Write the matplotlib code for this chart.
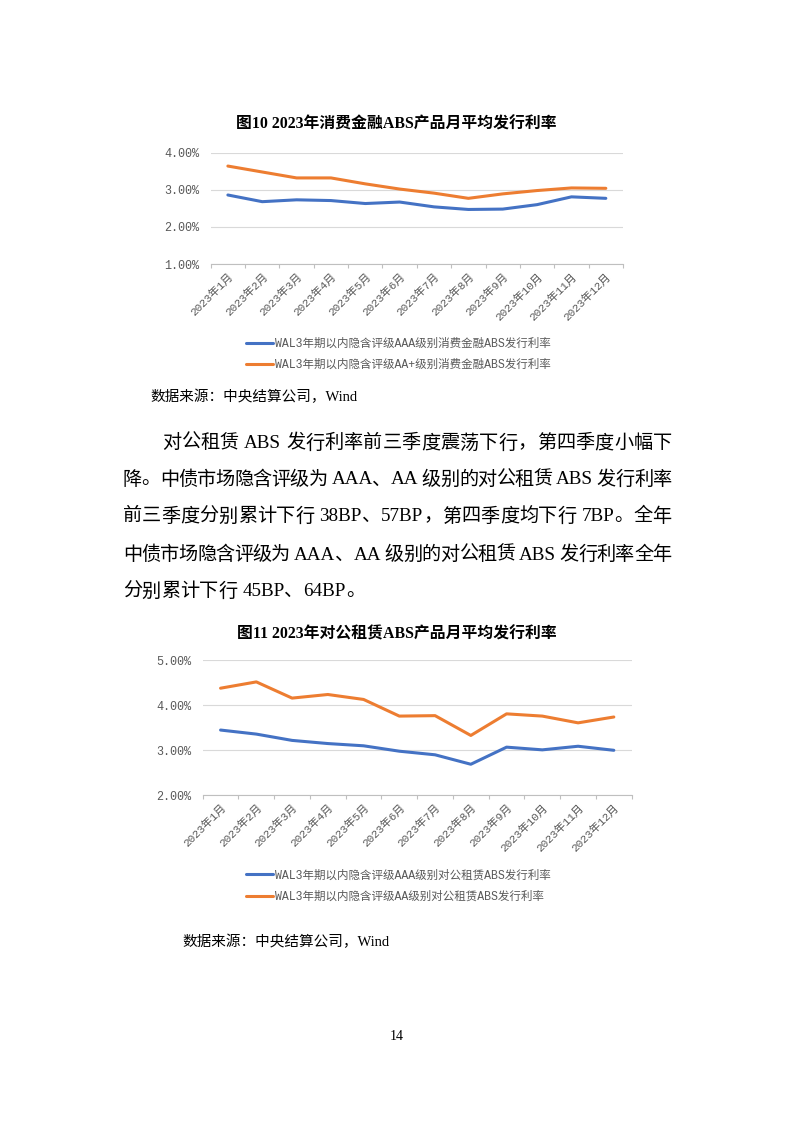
import re
import matplotlib
matplotlib.use("Agg")
from matplotlib import pyplot as plt
from matplotlib.ticker import FuncFormatter, MultipleLocator, FixedLocator
import numpy as np

W, H = 793, 1122

months = ["2023年1月", "2023年2月", "2023年3月", "2023年4月", "2023年5月", "2023年6月",
          "2023年7月", "2023年8月", "2023年9月", "2023年10月", "2023年11月", "2023年12月"]

# 图10 消费金融ABS (%)
cf_aaa = [2.86, 2.68, 2.73, 2.71, 2.63, 2.67, 2.54, 2.47, 2.48, 2.60, 2.81, 2.77]
cf_aap = [3.64, 3.48, 3.32, 3.32, 3.16, 3.02, 2.91, 2.77, 2.89, 2.98, 3.05, 3.04]
cf_labels = ["WAL3年期以内隐含评级AAA级别消费金融ABS发行利率",
             "WAL3年期以内隐含评级AA+级别消费金融ABS发行利率"]

# 图11 对公租赁ABS (%)
lease_aaa = [3.45, 3.36, 3.22, 3.15, 3.10, 2.98, 2.90, 2.69, 3.07, 3.01, 3.09, 3.00]
lease_aa = [4.38, 4.52, 4.16, 4.24, 4.13, 3.76, 3.77, 3.33, 3.81, 3.76, 3.61, 3.74]
lease_labels = ["WAL3年期以内隐含评级AAA级别对公租赁ABS发行利率",
                "WAL3年期以内隐含评级AA级别对公租赁ABS发行利率"]

source_text = "数据来源：中央结算公司，Wind"
paragraph = [
    "对公租赁 ABS 发行利率前三季度震荡下行，第四季度小幅下",
    "降。中债市场隐含评级为 AAA、AA 级别的对公租赁 ABS 发行利率",
    "前三季度分别累计下行 38BP、57BP，第四季度均下行 7BP。全年",
    "中债市场隐含评级为 AAA、AA 级别的对公租赁 ABS 发行利率全年",
    "分别累计下行 45BP、64BP。",
]

BLUE = "#4472C4"
ORANGE = "#ED7D31"
GREY = "#595959"
SERIF = ["Liberation Serif", "Noto Sans CJK SC", "DejaVu Sans"]
MONO = ["Liberation Mono", "Noto Sans CJK SC", "DejaVu Sans"]

fig = plt.figure(figsize=(W / 100, H / 100), dpi=100)
fig.patch.set_facecolor("white")


def fx(x):
    return x / W


def fy(y):
    return 1 - y / H


def px_axes(x0, ytop, x1, ybot):
    return fig.add_axes([fx(x0), fy(ybot), (x1 - x0) / W, (ybot - ytop) / H])


def draw_chart(ax, s1, s2, labels, ylo, yhi, leg_x, leg_y):
    x = np.arange(len(months))
    ax.plot(x, s1, color=BLUE, lw=2.2, solid_capstyle="round", solid_joinstyle="round", label=labels[0])
    ax.plot(x, s2, color=ORANGE, lw=2.2, solid_capstyle="round", solid_joinstyle="round", label=labels[1])
    ax.set_xlim(-0.5, len(months) - 0.5)
    ax.set_ylim(ylo, yhi)
    ax.yaxis.set_major_locator(MultipleLocator(1))
    ax.yaxis.set_major_formatter(FuncFormatter(lambda v, p: "{:.2f}%".format(v)))
    ax.grid(axis="y", color="#d9d9d9", lw=0.8)
    ax.set_axisbelow(True)
    for s in ["top", "right", "left"]:
        ax.spines[s].set_visible(False)
    ax.spines["bottom"].set_color("#bfbfbf")
    ax.spines["bottom"].set_linewidth(0.8)
    ax.set_xticks(x)
    ax.set_xticklabels(months, rotation=45, ha="right", rotation_mode="anchor",
                       fontsize=8, color=GREY, family=MONO)
    ax.xaxis.set_minor_locator(FixedLocator(np.arange(-0.5, len(months), 1.0)))
    ax.tick_params(axis="x", which="major", length=0, pad=5)
    ax.tick_params(axis="x", which="minor", length=3, color="#bfbfbf", width=0.8)
    ax.tick_params(axis="y", length=0, pad=8, labelsize=8.5, labelcolor=GREY)
    for t in ax.get_yticklabels():
        t.set_family(MONO)
    ax.legend(loc="upper left", bbox_to_anchor=(fx(leg_x), fy(leg_y)), bbox_transform=fig.transFigure,
              frameon=False, borderpad=0, borderaxespad=0, handlelength=2.35, handletextpad=0.2,
              labelspacing=0.8, prop={"family": MONO, "size": 8.3}, labelcolor=GREY)


# chart 1
fig.text(fx(396.7), fy(125), "图10 2023年消费金融ABS产品月平均发行利率", ha="center", va="center",
         fontsize=11.4, fontweight="bold", family=SERIF)
ax1 = px_axes(210.7, 152.7, 623, 264)
draw_chart(ax1, cf_aaa, cf_aap, cf_labels, 1, 4, 246, 338)
fig.text(fx(150), fy(397), source_text, ha="left", va="center", fontsize=10.5, family=SERIF)

# paragraph, justified like the original
renderer = fig.canvas.get_renderer()


def justify(line, x0, x1, y, size, stretch=True):
    tokens = re.findall(r"[A-Za-z0-9%.]+| |.", line)
    space_w = 0.25 * size * 100 / 72
    items = []
    for tok in tokens:
        if tok == " ":
            items.append((None, space_w))
        else:
            t = fig.text(0, fy(y), tok, ha="left", va="center", fontsize=size, family=SERIF)
            items.append((t, t.get_window_extent(renderer).width))
    total = sum(w for _, w in items)
    gap = (x1 - x0 - total) / (len(items) - 1) if stretch else 0
    xpos = x0
    for t, w in items:
        if t is not None:
            t.set_x(fx(xpos))
        xpos += w + gap


para_y = [443.3, 480, 516.7, 555, 591.7]
for i, line in enumerate(paragraph):
    start = 161.7 if i == 0 else 122.7
    justify(line, start, 671.7, para_y[i], 13.8, stretch=(i < len(paragraph) - 1))

# chart 2
fig.text(fx(396.7), fy(634), "图11 2023年对公租赁ABS产品月平均发行利率", ha="center", va="center",
         fontsize=11.4, fontweight="bold", family=SERIF)
ax2 = px_axes(202.7, 660.3, 631.7, 795.3)
draw_chart(ax2, lease_aaa, lease_aa, lease_labels, 2, 5, 246, 869.5)
fig.text(fx(182), fy(942), source_text, ha="left", va="center", fontsize=10.5, family=SERIF)

fig.text(fx(397), fy(1037), "14", ha="center", va="center", fontsize=10, family=SERIF)

fig.savefig("out.png", dpi=100, facecolor="white")
